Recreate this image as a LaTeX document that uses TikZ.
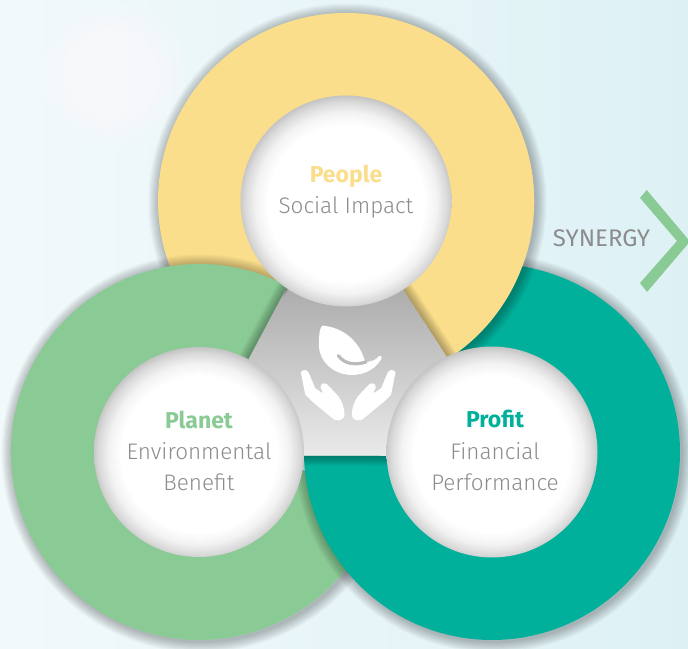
\documentclass[tikz,border=0pt]{standalone}
\usepackage{fontspec}
\setmainfont{Fira Sans}
\newfontfamily\litefont{Fira Sans Light}
\usetikzlibrary{calc}
\definecolor{ringY}{HTML}{FADE8B}
\definecolor{ringG}{HTML}{8ACB95}
\definecolor{ringT}{HTML}{00B09B}
\definecolor{txtgray}{HTML}{8C8C8E}
\definecolor{bgL}{HTML}{F2F9FB}
\definecolor{bgR}{HTML}{DDF1F5}
\pgfdeclareradialshading{bubble}{\pgfpoint{0bp}{-0.8bp}}{%
  color(0bp)=(white); color(18.5bp)=(white); color(21.5bp)=(white!95!black);
  color(24bp)=(white!85!black); color(26bp)=(white!73!black); color(50bp)=(white!73!black)}
% shadow of the outer arc: cx cy start end
\newcommand{\ringshadow}[4]{%
  \foreach \k in {1,...,10}{
    \draw[black,opacity=.028,line width=2.2*\k pt]
      ($(#1,#2)+(#3:188pt)+(1.5pt,-1.5pt)$) arc[start angle=#3,end angle=#4,radius=188pt];
  }
}
% annular sector with a shaded cut edge: cx cy outer-start end colour inner-start
\newcommand{\ringfill}[6]{%
  \fill[#5] ($(#1,#2)+(#3:188pt)$) arc[start angle=#3,end angle=#4,radius=188pt]
     -- ($(#1,#2)+(#4:100pt)$) arc[start angle=#4,end angle=#6,radius=100pt] -- cycle;
  \begin{scope}
    \clip ($(#1,#2)+(#3:188pt)$) arc[start angle=#3,end angle=#4,radius=188pt]
     -- ($(#1,#2)+(#4:100pt)$) arc[start angle=#4,end angle=#6,radius=100pt] -- cycle;
    \foreach \k in {1,...,6}{
      \draw[black,opacity=.05,line width=3.2*\k pt]
        ($(#1,#2)+(#6:100pt)$) -- ($(#1,#2)+(#3:190pt)$);
    }
  \end{scope}
}
\tikzset{
  bubblecircle/.style={shading=bubble,draw=none},
  headtxt/.style={anchor=base,font=\fontsize{23}{24}\selectfont\bfseries},
  subtxt/.style={anchor=base,text=txtgray,font=\fontsize{22.5}{24}\litefont},
  iconfill/.style={fill=white,draw=white,line join=round,line width=3pt}
}
\begin{document}
\begin{tikzpicture}[x=1pt,y=1pt]
\useasboundingbox (0,0) rectangle (688,648);
\begin{scope}
\clip (0,0) rectangle (688,648);
% background
\shade[left color=bgL,right color=bgR] (0,0) rectangle (688,648);
\foreach \r in {24,28,...,72}{\fill[white,opacity=.1] (115,573) circle[radius=\r pt];}
\foreach \r in {20,26,...,62}{\fill[white,opacity=.06] (15,408) circle[radius=\r pt];}
% centre
\shade[top color=black!33!white,bottom color=black!8!white]
  (287,363) -- (405,363) -- (452,290) -- (387,191.5) -- (304,191.5) -- (243,290) -- cycle;
% rings
\ringshadow{346}{447}{-57}{230}
\ringfill{346}{447}{-57}{230}{ringY}{-57}
\ringshadow{199}{196}{62}{350}
\ringfill{199}{196}{62}{350}{ringG}{62}
\ringshadow{492}{196}{181.2}{470}
\ringfill{492}{196}{181.2}{470}{ringT}{182.3}
\begin{scope}
  \clip (492,196) circle[radius=188pt];
  \ringshadow{346}{447}{-57}{10}
\end{scope}
\ringfill{346}{447}{-57}{30}{ringY}{-57}
% inner discs
\shade[bubblecircle] (346,447) circle[radius=105.5pt];
\shade[bubblecircle] (199,196) circle[radius=105pt];
\shade[bubblecircle] (492,196) circle[radius=105.5pt];
% icon
\begin{scope}[shift={(230,398)},xscale=1/3,yscale=-1/3]
  \fill[white] (278,227) .. controls (340,232) and (390,275) .. (405,335)
     .. controls (425,336) and (438,330) .. (447,318)
     .. controls (452,314) and (458,320) .. (454,327)
     .. controls (432,366) and (385,382) .. (340,372)
     .. controls (290,358) and (262,320) .. (267,270)
     .. controls (268,245) and (270,232) .. (278,227) -- cycle;
  \draw[black!27!white,line width=3.2pt,line cap=round]
     (325,317) .. controls (345,345) and (380,345) .. (408,336);
  \foreach \sx/\ax in {1/0,-1/709}{
    \begin{scope}[shift={(\ax,0)},xscale=\sx]
      \filldraw[iconfill] (217,367) .. controls (222,362) and (230,364) .. (232,370)
        -- (252,418) -- (272,431) -- (288,436) -- (276,412)
        .. controls (274,404) and (282,402) .. (288,406)
        -- (322,442) .. controls (332,456) and (338,475) .. (339,490)
        .. controls (340,510) and (318,512) .. (306,498)
        -- (248,450) -- (230,432) -- cycle;
    \end{scope}
  }
\end{scope}
% chevron
\fill[ringG] (646.7,458) -- (640,450) -- (677,407) -- (640,365) -- (647,356) -- (690,406.5) -- cycle;
\end{scope}
% text
\node[headtxt,text=ringY] (people) at (346,465) {People};
\node[subtxt] (social) at (346,434) {Social Impact};
\node[headtxt,text=ringG] (planet) at (199,219) {Planet};
\node[subtxt] (env) at (199,188) {Environmental};
\node[subtxt] (ben) at (199,157) {Benefit};
\node[headtxt,text=ringT] (profit) at (495,220) {Profit};
\node[subtxt] (fin) at (495,188) {Financial};
\node[subtxt] (perf) at (495,157) {Performance};
\node[anchor=base,text=txtgray,font=\fontsize{24}{24}\selectfont] (syn) at (601.5,401) {SYNERGY};
\end{tikzpicture}
\end{document}
